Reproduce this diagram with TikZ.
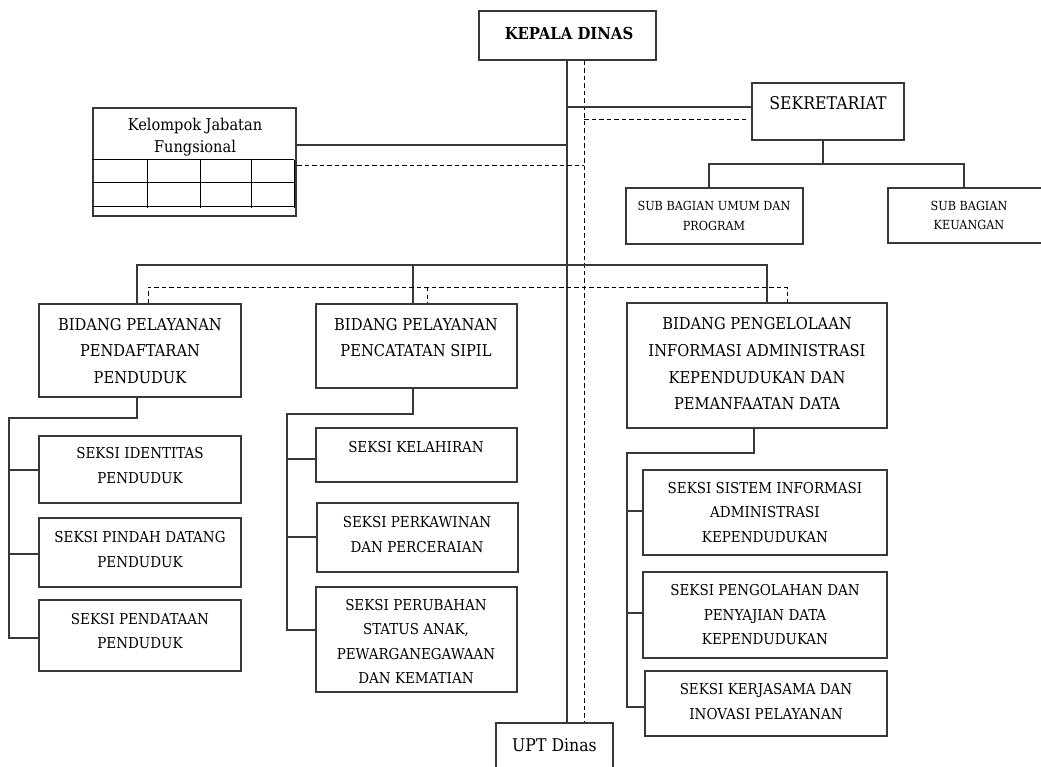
\documentclass[tikz,border=0pt]{standalone}
\usepackage{fontspec}
\setmainfont{DejaVu Serif Condensed}
\usetikzlibrary{fit}
\tikzset{
  box/.style={draw=black!78, line width=1.3pt, inner sep=0pt},
  conn/.style={draw=black!78, line width=1.3pt},
  dashln/.style={draw=black, line width=0.9pt, dash pattern=on 4.5pt off 3pt},
  gridln/.style={draw=black, line width=1pt},
  txt/.style={align=center, inner sep=0pt, text=black},
  seks/.style={txt, font=\fontsize{15}{24.5}\selectfont},
  bid/.style={txt, font=\fontsize{16.3}{26.7}\selectfont},
  subb/.style={txt, font=\fontsize{12.5}{19.5}\selectfont},
  bigt/.style={txt, font=\fontsize{17.5}{20}\selectfont},
  kjft/.style={txt, font=\fontsize{16.2}{22.6}\selectfont},
  kept/.style={txt, font=\fontsize{16.5}{18}\selectfont\bfseries},
}
\newcommand\obox[5]{%
  \coordinate (#1-nw) at (#2,#3);
  \coordinate (#1-se) at (#4,#5);
  \node[box, fit=(#1-nw)(#1-se)] (#1) {};}
\begin{document}
\begin{tikzpicture}[x=1pt,y=-1pt]
\useasboundingbox (0,0) rectangle (1041,767);
% boxes
\obox{kepala}{479}{11}{656}{60}
\obox{sek}{752}{83}{904}{140}
\obox{subum}{626}{188}{803}{244}
\obox{subkeu}{888}{188}{1052}{243}
\obox{kjf}{93}{108}{296}{216}
\obox{bidA}{39}{304}{241}{397}
\obox{bidB}{316}{304}{517}{388}
\obox{bidC}{627}{303}{887}{428}
\obox{sA1}{39}{436}{241}{503}
\obox{sA2}{39}{518}{241}{587}
\obox{sA3}{39}{600}{241}{671}
\obox{sB1}{316}{428}{517}{482}
\obox{sB2}{317}{503}{518}{572}
\obox{sB3}{316}{587}{517}{692}
\obox{sC1}{643}{470}{887}{555}
\obox{sC2}{643}{572}{887}{658}
\obox{sC3}{645}{671}{887}{736}
\obox{upt}{496}{723}{613}{795}
% texts
\node[kept] (kepala-t) at (569,33) {KEPALA DINAS};
\node[bigt] (sek-t) at (828,103) {SEKRETARIAT};
\node[subb] (subum-t) at (714,216) {SUB BAGIAN UMUM DAN\\PROGRAM};
\node[subb] (subkeu-t) at (969,215.5) {SUB BAGIAN\\KEUANGAN};
\node[kjft] (kjf-t) at (195,137) {Kelompok Jabatan\\Fungsional};
\node[bid] (bidA-t) at (140,351) {BIDANG PELAYANAN\\PENDAFTARAN\\PENDUDUK};
\node[bid] (bidB-t) at (416,337.5) {BIDANG PELAYANAN\\PENCATATAN SIPIL};
\node[bid] (bidC-t) at (757,364) {BIDANG PENGELOLAAN\\INFORMASI ADMINISTRASI\\KEPENDUDUKAN DAN\\PEMANFAATAN DATA};
\node[seks] (sA1-t) at (140,465.5) {SEKSI IDENTITAS\\PENDUDUK};
\node[seks] (sA2-t) at (140,549.5) {SEKSI PINDAH DATANG\\PENDUDUK};
\node[seks] (sA3-t) at (140,631) {SEKSI PENDATAAN\\PENDUDUK};
\node[seks] (sB1-t) at (416,447) {SEKSI KELAHIRAN};
\node[seks] (sB2-t) at (417,534.5) {SEKSI PERKAWINAN\\DAN PERCERAIAN};
\node[seks] (sB3-t) at (416,641.5) {SEKSI PERUBAHAN\\STATUS ANAK,\\PEWARGANEGAWAAN\\DAN KEMATIAN};
\node[seks] (sC1-t) at (765,512.5) {SEKSI SISTEM INFORMASI\\ADMINISTRASI\\KEPENDUDUKAN};
\node[seks] (sC2-t) at (765,615) {SEKSI PENGOLAHAN DAN\\PENYAJIAN DATA\\KEPENDUDUKAN};
\node[seks] (sC3-t) at (766,701.5) {SEKSI KERJASAMA DAN\\INOVASI PELAYANAN};
\node[bigt] (upt-t) at (554.5,745) {UPT Dinas};
% main trunk
\draw[conn] (kepala.south -| 567,0) -- (upt.north -| 567,0);
\draw[dashln] (kepala.south -| 584,0) -- (upt.north -| 584,0);
% sekretariat
\draw[conn] (567,107) -- (sek.west |- 0,107);
\draw[dashln] (584,119) -- (747,119);
\draw[conn] (sek.south -| 823,0) -- (823,164);
\draw[conn] (subum.north -| 709,0) -- (709,164) -- (964,164) -- (subkeu.north -| 964,0);
% kelompok jabatan fungsional
\draw[conn] (kjf.east |- 0,145) -- (567,145);
\draw[dashln] (297,165) -- (584,165);
\foreach \yy in {160,183,207} \draw[gridln] (kjf.west |- 0,\yy) -- (294,\yy);
\foreach \xx in {147,200,251,294} \draw[gridln] (\xx,160) -- (\xx,208);
% bidang bus
\draw[conn] (bidA.north -| 137,0) -- (137,265) -- (767,265) -- (bidC.north -| 767,0);
\draw[conn] (413,265) -- (bidB.north -| 413,0);
\draw[dashln] (bidA.north -| 148,0) -- (148,287) -- (787,287) -- (bidC.north -| 787,0);
\draw[dashln] (427,287) -- (bidB.north -| 427,0);
% column A
\draw[conn] (bidA.south -| 137,0) -- (137,418) -- (9,418) -- (9,638) -- (sA3.west |- 0,638);
\draw[conn] (9,470) -- (sA1.west |- 0,470);
\draw[conn] (9,554) -- (sA2.west |- 0,554);
% column B
\draw[conn] (bidB.south -| 413,0) -- (413,414) -- (287,414) -- (287,630) -- (sB3.west |- 0,630);
\draw[conn] (287,459) -- (sB1.west |- 0,459);
\draw[conn] (287,537) -- (sB2.west |- 0,537);
% column C
\draw[conn] (bidC.south -| 754,0) -- (754,453) -- (627,453) -- (627,707) -- (sC3.west |- 0,707);
\draw[conn] (627,511) -- (sC1.west |- 0,511);
\draw[conn] (627,613) -- (sC2.west |- 0,613);
\end{tikzpicture}
\end{document}
